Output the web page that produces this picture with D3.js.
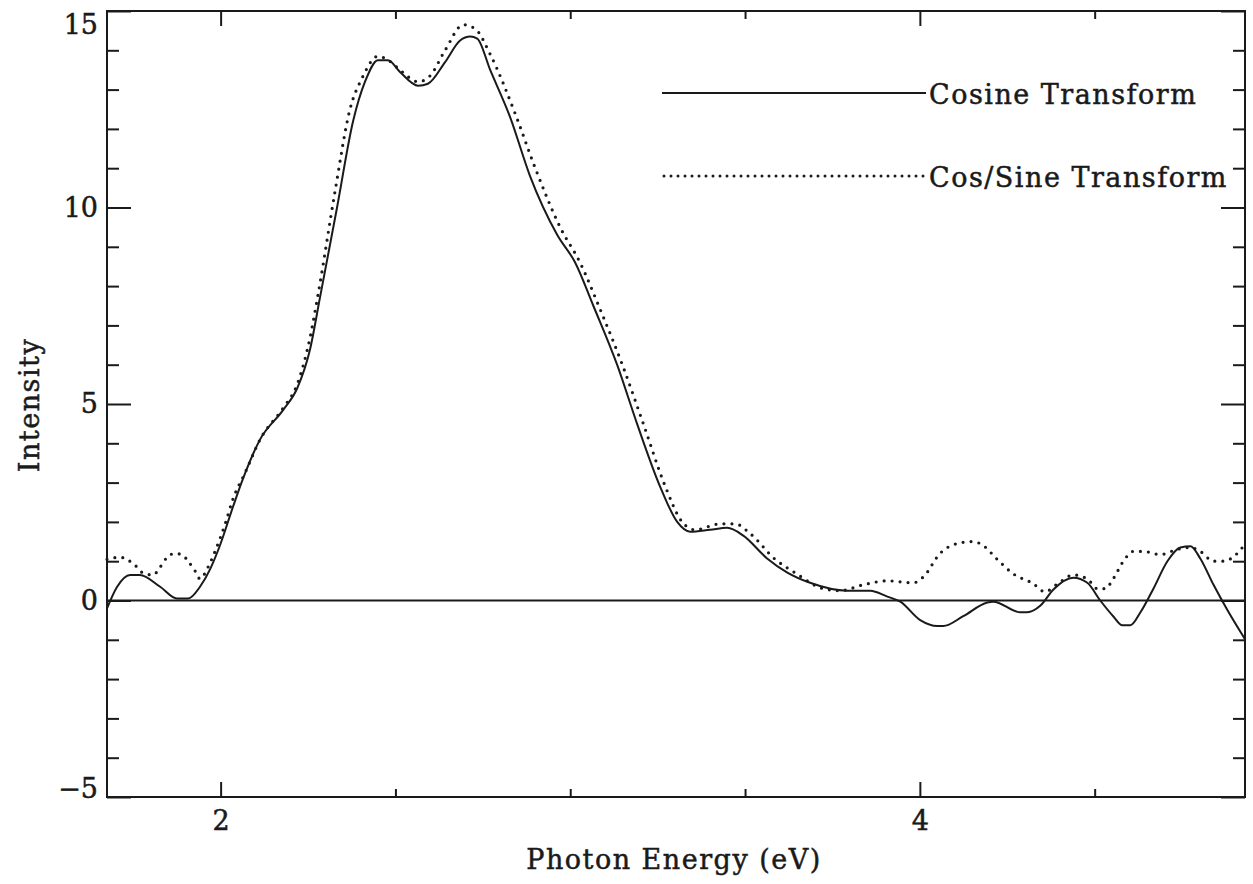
<!DOCTYPE html>
<html>
<head>
<meta charset="utf-8">
<script src="https://cdn.jsdelivr.net/npm/d3@7"></script>
<style>
  body { margin: 0; background: #fff; }
  svg text { font-family: "DejaVu Serif", serif; fill: #1a1a1a; stroke: #1a1a1a; stroke-width: 0.5px; letter-spacing: 1.5px; }
  .tick line { stroke: #1a1a1a; stroke-width: 2; }
</style>
</head>
<body>
<div class="graph"></div>
<script>
// photon energy (eV) / intensity
var cosineE = [1.675, 1.704, 1.741, 1.769, 1.827, 1.875, 1.907, 1.941, 1.970, 1.998,
  2.036, 2.064, 2.113, 2.179, 2.219, 2.256, 2.284, 2.333, 2.379, 2.413,
  2.450, 2.479, 2.513, 2.565, 2.593, 2.642, 2.685, 2.714, 2.734, 2.771,
  2.828, 2.885, 2.963, 3.014, 3.066, 3.134, 3.191, 3.257, 3.306, 3.343,
  3.400, 3.449, 3.495, 3.563, 3.621, 3.686, 3.792, 3.858, 3.907, 3.944,
  4.001, 4.050, 4.067, 4.124, 4.193, 4.210, 4.287, 4.307, 4.345, 4.382,
  4.439, 4.479, 4.516, 4.553, 4.579, 4.602, 4.631, 4.668, 4.708, 4.745,
  4.774, 4.802, 4.840, 4.880, 4.931];
var cosineI = [-0.2, 0.35, 0.65, 0.65, 0.35, 0.05, 0.05, 0.35, 0.8, 1.4,
  2.4, 3.1, 4.1, 4.85, 5.4, 6.4, 7.7, 10.0, 12.2, 13.2,
  13.75, 13.75, 13.45, 13.1, 13.15, 13.7, 14.25, 14.35, 14.3, 13.5,
  12.3, 10.8, 9.3, 8.6, 7.5, 6.0, 4.5, 2.9, 2.0, 1.75,
  1.8, 1.85, 1.65, 1.07, 0.71, 0.45, 0.25, 0.25, 0.1, -0.03,
  -0.5, -0.65, -0.65, -0.4, -0.05, -0.03, -0.3, -0.3, -0.13, 0.28,
  0.58, 0.45, 0.0, -0.4, -0.63, -0.63, -0.3, 0.3, 1.0, 1.35,
  1.38, 1.07, 0.4, -0.25, -1.0];

var cosSineE = [1.675, 1.712, 1.755, 1.778, 1.807, 1.827, 1.847, 1.870, 1.892, 1.907,
  1.927, 1.941, 1.964, 1.984, 2.013, 2.036, 2.070, 2.113, 2.179, 2.219,
  2.256, 2.279, 2.327, 2.370, 2.405, 2.450, 2.479, 2.513, 2.565, 2.599,
  2.642, 2.694, 2.728, 2.771, 2.842, 2.900, 2.971, 3.028, 3.086, 3.149,
  3.209, 3.272, 3.320, 3.357, 3.429, 3.472, 3.515, 3.586, 3.644, 3.724,
  3.772, 3.838, 3.907, 3.981, 4.010, 4.058, 4.107, 4.153, 4.181, 4.221,
  4.267, 4.324, 4.358, 4.393, 4.439, 4.479, 4.508, 4.530, 4.553, 4.582,
  4.611, 4.639, 4.688, 4.736, 4.774, 4.802, 4.840, 4.868, 4.908, 4.931];
var cosSineI = [1.05, 1.1, 0.9, 0.7, 0.65, 0.85, 1.1, 1.2, 1.15, 1.0,
  0.75, 0.55, 0.85, 1.25, 1.95, 2.6, 3.25, 4.1, 4.9, 5.5,
  6.7, 7.8, 10.4, 12.5, 13.3, 13.85, 13.75, 13.5, 13.2, 13.35,
  14.0, 14.65, 14.55, 13.9, 12.4, 11.0, 9.5, 8.6, 7.4, 6.0,
  4.5, 2.9, 2.0, 1.8, 1.95, 1.95, 1.7, 1.05, 0.7, 0.3,
  0.25, 0.4, 0.5, 0.45, 0.6, 1.2, 1.45, 1.5, 1.4, 1.05,
  0.68, 0.43, 0.22, 0.42, 0.65, 0.55, 0.3, 0.3, 0.55, 1.0,
  1.25, 1.25, 1.17, 1.3, 1.35, 1.25, 1.0, 1.0, 1.2, 1.45];

var seriesNames = ["Cosine Transform", "Cos/Sine Transform"];
var xMajorTicks = [2, 4];
var xMinorTicks = [2.5, 3, 3.5, 4.5];
var yMajorTicks = [-5, 0, 5, 10, 15];
var yMinorTicks = [-4, -3, -2, -1, 1, 2, 3, 4, 6, 7, 8, 9, 11, 12, 13, 14];

var width = 1253, height = 884;
var margin = { top: 11, left: 107, right: 8, bottom: 87 };

var svg = d3.select(".graph").append("svg")
    .attr("width", width)
    .attr("height", height);

var x = d3.scaleLinear().domain([1.675, 4.93]).range([margin.left, width - margin.right]);
var y = d3.scaleLinear().domain([-5, 15]).range([height - margin.bottom, margin.top]);

var zip = function(xs, ys) { return xs.map(function(d, i) { return { e: d, v: ys[i] }; }); };
var cosine = zip(cosineE, cosineI);
var cosSine = zip(cosSineE, cosSineI);

// ticks on all four sides, pointing inward
function styleAxis(g) {
  g.select(".domain").remove();
  g.selectAll("text").style("font-size", "27px").style("letter-spacing", "0px");
}
svg.append("g").attr("transform", "translate(" + margin.left + ",0)")
  .call(d3.axisLeft(y).tickValues(yMajorTicks).tickSize(-24).tickPadding(9).tickFormat(d3.format("d")))
  .call(styleAxis);
svg.append("g").attr("transform", "translate(" + margin.left + ",0)")
  .call(d3.axisLeft(y).tickValues(yMinorTicks).tickSize(-12).tickFormat(""))
  .call(styleAxis);
svg.append("g").attr("transform", "translate(" + (width - margin.right) + ",0)")
  .call(d3.axisRight(y).tickValues(yMajorTicks).tickSize(-24).tickFormat(""))
  .call(styleAxis);
svg.append("g").attr("transform", "translate(" + (width - margin.right) + ",0)")
  .call(d3.axisRight(y).tickValues(yMinorTicks).tickSize(-12).tickFormat(""))
  .call(styleAxis);
svg.append("g").attr("transform", "translate(0," + (height - margin.bottom) + ")")
  .call(d3.axisBottom(x).tickValues(xMajorTicks).tickSize(-15).tickPadding(14).tickFormat(d3.format("d")))
  .call(styleAxis);
svg.append("g").attr("transform", "translate(0," + (height - margin.bottom) + ")")
  .call(d3.axisBottom(x).tickValues(xMinorTicks).tickSize(-8).tickFormat(""))
  .call(styleAxis);
svg.append("g").attr("transform", "translate(0," + margin.top + ")")
  .call(d3.axisTop(x).tickValues(xMajorTicks).tickSize(-15).tickFormat(""))
  .call(styleAxis);
svg.append("g").attr("transform", "translate(0," + margin.top + ")")
  .call(d3.axisTop(x).tickValues(xMinorTicks).tickSize(-8).tickFormat(""))
  .call(styleAxis);

// end labels sit inside the frame
svg.selectAll("text").filter(function(d) { return d === 15; }).attr("dy", "0.85em");
svg.selectAll("text").filter(function(d) { return d === -5; }).attr("dy", "0em");

// frame
svg.append("rect")
  .attr("x", margin.left).attr("y", margin.top)
  .attr("width", width - margin.left - margin.right)
  .attr("height", height - margin.top - margin.bottom)
  .attr("fill", "none").attr("stroke", "#1a1a1a").attr("stroke-width", 2);

// zero line
svg.append("line")
  .attr("x1", x.range()[0]).attr("x2", x.range()[1])
  .attr("y1", y(0)).attr("y2", y(0))
  .attr("stroke", "#1a1a1a").attr("stroke-width", 2);

var line = d3.line()
  .x(function(d) { return x(d.e); })
  .y(function(d) { return y(d.v); })
  .curve(d3.curveMonotoneX);

svg.append("path").datum(cosSine)
  .attr("d", line)
  .attr("fill", "none").attr("stroke", "#1a1a1a")
  .attr("stroke-width", 3.2).attr("stroke-linecap", "round")
  .attr("stroke-dasharray", "0 8");

svg.append("path").datum(cosine)
  .attr("d", line)
  .attr("fill", "none").attr("stroke", "#1a1a1a").attr("stroke-width", 2);

// legend
var legend = svg.append("g").attr("class", "legend");
legend.append("line")
  .attr("x1", 662).attr("x2", 926).attr("y1", 93).attr("y2", 93)
  .attr("stroke", "#1a1a1a").attr("stroke-width", 2);
legend.append("text").attr("x", 929).attr("y", 93).attr("dy", "0.42em")
  .style("font-size", "27px").text(seriesNames[0]);
legend.append("line")
  .attr("x1", 664).attr("x2", 926).attr("y1", 176).attr("y2", 176)
  .attr("stroke", "#1a1a1a").attr("stroke-width", 3)
  .attr("stroke-linecap", "round").attr("stroke-dasharray", "0 7");
legend.append("text").attr("x", 929).attr("y", 176).attr("dy", "0.42em")
  .style("font-size", "27px").text(seriesNames[1]);

// axis titles
svg.append("text")
  .attr("x", (x.range()[0] + x.range()[1]) / 2 - 2).attr("y", 869)
  .attr("text-anchor", "middle")
  .style("font-size", "27px")
  .text("Photon Energy (eV)");
svg.append("text")
  .attr("transform", "translate(39," + 405 + ") rotate(-90)")
  .attr("text-anchor", "middle")
  .style("font-size", "27px")
  .text("Intensity");
</script>
</body>
</html>
